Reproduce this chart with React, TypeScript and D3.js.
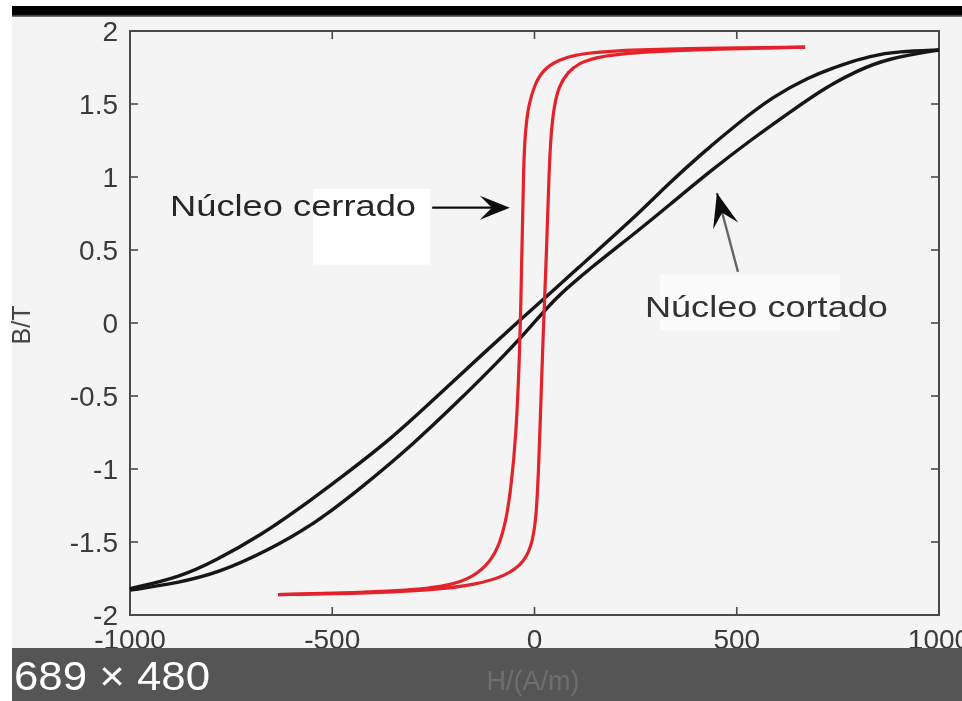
import React from 'react'
import * as d3 from 'd3'

// B-H loops, [H (A/m), B (T)]
// Núcleo cerrado (red) - branch coming down from +Hmax
const closedDown: [number, number][] = [
  [669, 1.89], [360, 1.88], [194, 1.865], [112, 1.845], [56, 1.8], [20, 1.73],
  [0, 1.63], [-14, 1.5], [-22, 1.34], [-27, 1.1], [-31, 0.5], [-36, -0.18],
  [-46, -0.8], [-58, -1.12], [-68, -1.32], [-85, -1.51], [-110, -1.64],
  [-152, -1.74], [-209, -1.8], [-333, -1.84], [-634, -1.86],
]
// Núcleo cerrado (red) - branch going up from -Hmax
const closedUp: [number, number][] = [
  [-634, -1.86], [-456, -1.855], [-250, -1.83], [-140, -1.79], [-70, -1.73],
  [-25, -1.64], [-4, -1.5], [5, -1.3], [10, -1.01], [16, -0.53], [21, -0.1],
  [30, 0.5], [36, 1.05], [41, 1.3], [48, 1.48], [60, 1.62], [82, 1.72],
  [115, 1.79], [180, 1.84], [360, 1.87], [669, 1.89],
]
// Núcleo cortado (black) - branch coming down from +Hmax
const cutDown: [number, number][] = [
  [1000, 1.87], [900, 1.86], [830, 1.83], [760, 1.77], [674, 1.68], [590, 1.55],
  [508, 1.38], [409, 1.15], [330, 0.95], [261, 0.76], [145, 0.47], [45, 0.22],
  [-36, 0.02], [-127, -0.21], [-240, -0.5], [-357, -0.8], [-470, -1.04],
  [-575, -1.26], [-675, -1.45], [-790, -1.63], [-876, -1.74], [-1000, -1.82],
]
// Núcleo cortado (black) - branch going up from -Hmax
const cutUp: [number, number][] = [
  [-1000, -1.83], [-880, -1.78], [-780, -1.71], [-660, -1.56], [-540, -1.37],
  [-420, -1.11], [-300, -0.83], [-190, -0.54], [-95, -0.28], [-10, -0.03],
  [50, 0.17], [140, 0.38], [255, 0.63], [330, 0.8], [434, 1.04], [533, 1.25],
  [639, 1.46], [723, 1.62], [800, 1.73], [870, 1.81], [1000, 1.87],
]

const xTicks = [-1000, -500, 0, 500, 1000]
const xTickLabels = ['-1000', '-500', '0', '500', '1000']
const yTicks = [-2, -1.5, -1, -0.5, 0, 0.5, 1, 1.5, 2]
const yTickLabels = ['-2', '-1.5', '-1', '-0.5', '0', '0.5', '1', '1.5', '2']

const labelClosed = 'Núcleo cerrado'
const labelCut = 'Núcleo cortado'
const xTitle = 'H/(A/m)'
const yTitle = 'B/T'
const sizeBadge = '689 × 480'

const W = 962
const H = 701
const FONT = '"Liberation Sans", Arial, Helvetica, sans-serif'

// matlab-ish "vback2" arrow head, pixel coords
function arrowHead(x1: number, y1: number, x2: number, y2: number, len: number, half: number) {
  const dx = x2 - x1
  const dy = y2 - y1
  const L = Math.hypot(dx, dy)
  const ux = dx / L
  const uy = dy / L
  const px = -uy
  const py = ux
  const bx = x2 - ux * len
  const by = y2 - uy * len
  const nx = x2 - ux * len * 0.6
  const ny = y2 - uy * len * 0.6
  return `M${x2},${y2}L${bx + px * half},${by + py * half}L${nx},${ny}L${bx - px * half},${by - py * half}Z`
}

export default function App() {
  const x = d3.scaleLinear().domain([-1000, 1000]).range([130, 939])
  const y = d3.scaleLinear().domain([-2, 2]).range([615, 31])

  const line = d3
    .line<[number, number]>()
    .x((d) => x(d[0]))
    .y((d) => y(d[1]))
    .curve(d3.curveBasis)

  const [x0, x1] = x.range()
  const [yb, yt] = y.range()

  // annotation anchors in data units
  const a1 = { tail: [x(-253), y(0.79)], tip: [x(-61), y(0.79)] }
  const a2 = { tail: [x(503), y(0.35)], tip: [x(451), y(0.89)] }

  return (
    <svg
      width={W}
      height={H}
      style={{ position: 'absolute', left: 0, top: 0, display: 'block' }}
      fontFamily={FONT}
    >
      <defs>
        <filter id="soft" x="-5%" y="-5%" width="110%" height="110%">
          <feGaussianBlur stdDeviation="0.65" />
        </filter>
        <linearGradient id="topbar" x1="0" y1="0" x2="0" y2="1">
          <stop offset="0" stopColor="#000" />
          <stop offset="0.75" stopColor="#000" />
          <stop offset="1" stopColor="#888" />
        </linearGradient>
      </defs>

      <rect x={0} y={0} width={W} height={H} fill="#fff" />
      <rect x={12} y={16} width={W - 12} height={632} fill="#f4f4f4" />
      <rect x={12} y={6} width={W - 12} height={11} fill="url(#topbar)" />

      <g filter="url(#soft)">
        {/* faint white boxes behind labels */}
        <rect x={x(-547)} y={y(0.92)} width={x(-258) - x(-547)} height={y(0.4) - y(0.92)} fill="#fff" />
        <rect x={x(310)} y={y(0.33)} width={x(755) - x(310)} height={y(-0.05) - y(0.33)} fill="#fbfbfb" />

        {/* frame */}
        <rect x={x0} y={yt} width={x1 - x0} height={yb - yt} fill="none" stroke="#4a4a4a" strokeWidth={2} />

        {yTicks.map((t, i) => (
          <g key={'y' + i}>
            <line x1={x0} x2={x0 + 8} y1={y(t)} y2={y(t)} stroke="#4a4a4a" strokeWidth={1.6} />
            <line x1={x1} x2={x1 - 8} y1={y(t)} y2={y(t)} stroke="#4a4a4a" strokeWidth={1.6} />
            <text x={x0 - 12} y={y(t)} dy="0.36em" textAnchor="end" fontSize={28} fill="#3a3a3a">
              {yTickLabels[i]}
            </text>
          </g>
        ))}
        {xTicks.map((t, i) => (
          <g key={'x' + i}>
            <line x1={x(t)} x2={x(t)} y1={yb} y2={yb - 8} stroke="#4a4a4a" strokeWidth={1.6} />
            <line x1={x(t)} x2={x(t)} y1={yt} y2={yt + 8} stroke="#4a4a4a" strokeWidth={1.6} />
            <text x={x(t)} y={yb + 34} textAnchor="middle" fontSize={28} fill="#3a3a3a">
              {xTickLabels[i]}
            </text>
          </g>
        ))}

        <text
          transform={`translate(${x0 - 100},${(yt + yb) / 2 + 2}) rotate(-90)`}
          textAnchor="middle"
          fontSize={25}
          fill="#444"
        >
          {yTitle}
        </text>

        {/* loops */}
        <path d={line(cutDown) ?? ''} fill="none" stroke="#151515" strokeWidth={3.4} />
        <path d={line(cutUp) ?? ''} fill="none" stroke="#151515" strokeWidth={3.4} />
        <path d={line(closedDown) ?? ''} fill="none" stroke="#e3202b" strokeWidth={3.2} />
        <path d={line(closedUp) ?? ''} fill="none" stroke="#e3202b" strokeWidth={3.2} />

        {/* annotations */}
        <text x={x(-901)} y={y(0.733)} fontSize={30} textLength={246} lengthAdjust="spacingAndGlyphs" fill="#262626">
          {labelClosed}
        </text>
        <line x1={a1.tail[0]} y1={a1.tail[1]} x2={a1.tip[0] - 12} y2={a1.tip[1]} stroke="#111" strokeWidth={2.4} />
        <path d={arrowHead(a1.tail[0], a1.tail[1], a1.tip[0], a1.tip[1], 30, 12)} fill="#111" />

        <text x={x(273)} y={y(0.04)} fontSize={30} textLength={243} lengthAdjust="spacingAndGlyphs" fill="#333">
          {labelCut}
        </text>
        <line x1={a2.tail[0]} y1={a2.tail[1]} x2={a2.tip[0]} y2={a2.tip[1]} stroke="#666" strokeWidth={2.4} />
        <path d={arrowHead(a2.tail[0], a2.tail[1], a2.tip[0], a2.tip[1], 34, 13)} fill="#111" />
      </g>

      {/* bottom overlay bar */}
      <rect x={12} y={648} width={W - 12} height={H - 648} fill="#555" />
      <text x={533} y={690} textAnchor="middle" fontSize={27} fill="#6e6e6e" filter="url(#soft)">
        {xTitle}
      </text>
      <text x={14} y={690} fontSize={40} textLength={196} lengthAdjust="spacingAndGlyphs" fill="#fff" filter="url(#soft)">
        {sizeBadge}
      </text>
    </svg>
  )
}
